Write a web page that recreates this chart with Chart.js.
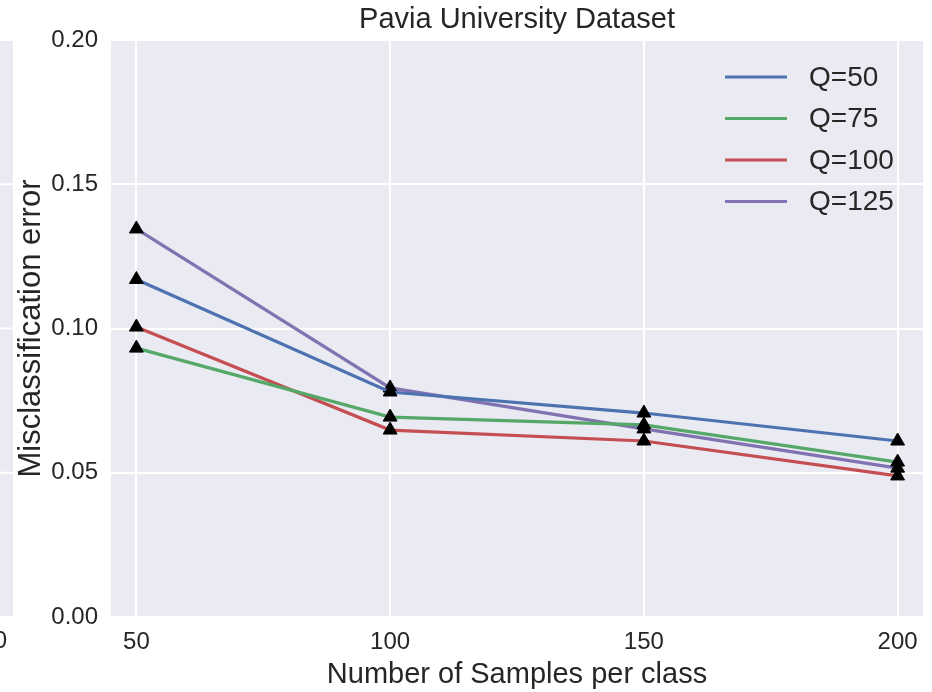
<!DOCTYPE html>
<html>
<head>
<meta charset="utf-8">
<script src="https://cdn.jsdelivr.net/npm/chart.js@4.4.0/dist/chart.umd.min.js"></script>
<style>
  body { margin: 0; background: #fff; }
</style>
</head>
<body>
<canvas id="c" width="932" height="692"></canvas>
<script>
// chart data
var samples = [50, 100, 150, 200];
var seriesNames = ["Q=50", "Q=75", "Q=100", "Q=125"];
var q50  = [0.117, 0.078, 0.0707, 0.061];
var q75  = [0.0932, 0.0693, 0.0666, 0.0537];
var q100 = [0.1005, 0.0648, 0.061, 0.0489];
var q125 = [0.1345, 0.0794, 0.0652, 0.0516];
var yTicks = [0, 0.05, 0.10, 0.15, 0.20];
var colors = ["#4C72B0", "#55A868", "#C44E52", "#8172B2"];

var fontFam = '"Liberation Sans", Arial, sans-serif';
var textColor = "#262626";

function makeSet(name, vals, col) {
  return {
    label: name,
    data: samples.map(function(s, i){ return {x: s, y: vals[i]}; }),
    borderColor: col,
    backgroundColor: col,
    borderWidth: 3.2,
    pointStyle: "triangle",
    pointRadius: 8,
    pointBackgroundColor: "#000",
    pointBorderColor: "#000",
    pointBorderWidth: 1,
    tension: 0
  };
}

var bgPlugin = {
  id: "bg",
  beforeDraw: function(chart) {
    var a = chart.chartArea, ctx = chart.ctx, ys = chart.scales.y;
    ctx.save();
    ctx.fillStyle = "#EAEAF2";
    ctx.fillRect(a.left, a.top, a.right - a.left, a.bottom - a.top);
    // edge of the neighbouring panel, cut off at the left
    ctx.fillRect(0, a.top, 13, a.bottom - a.top);
    ctx.strokeStyle = "#fff";
    ctx.lineWidth = 2;
    yTicks.forEach(function(v) {
      var y = ys.getPixelForValue(v);
      ctx.beginPath();
      ctx.moveTo(0, y);
      ctx.lineTo(13, y);
      ctx.stroke();
    });
    ctx.fillStyle = textColor;
    ctx.font = "24px " + fontFam;
    ctx.textAlign = "right";
    ctx.textBaseline = "middle";
    ctx.fillText("0", 7, a.bottom + 24);
    ctx.restore();
  },
  afterDraw: function(chart) {
    var a = chart.ctx, area = chart.chartArea;
    a.save();
    // title
    a.fillStyle = textColor;
    a.font = "29px " + fontFam;
    a.textAlign = "center";
    a.textBaseline = "middle";
    a.fillText("Pavia University Dataset", (area.left + area.right) / 2, 20);
    // legend
    a.font = "28px " + fontFam;
    a.textAlign = "left";
    chart.data.datasets.forEach(function(ds, i) {
      var y = area.top + 37 + i * 41.5;
      a.strokeStyle = ds.borderColor;
      a.lineWidth = 3.2;
      a.beginPath();
      a.moveTo(area.right - 198, y);
      a.lineTo(area.right - 136, y);
      a.stroke();
      a.fillStyle = textColor;
      a.fillText(ds.label, area.right - 114, y + 1);
    });
    a.restore();
  }
};

var ctx = document.getElementById("c").getContext("2d");
new Chart(ctx, {
  type: "line",
  data: {
    datasets: [
      makeSet(seriesNames[0], q50, colors[0]),
      makeSet(seriesNames[1], q75, colors[1]),
      makeSet(seriesNames[2], q100, colors[2]),
      makeSet(seriesNames[3], q125, colors[3])
    ]
  },
  options: {
    responsive: false,
    animation: false,
    layout: { padding: { top: 40, right: 9, left: 0, bottom: 0 } },
    plugins: {
      legend: { display: false },
      title: { display: false },
      tooltip: { enabled: false }
    },
    scales: {
      x: {
        type: "linear",
        min: 45,
        max: 205,
        afterBuildTicks: function(axis) {
          axis.ticks = samples.map(function(v){ return {value: v}; });
        },
        afterFit: function(axis) { axis.height = 75; },
        grid: { color: "#fff", lineWidth: 2, drawTicks: false },
        border: { display: false },
        ticks: {
          color: textColor,
          font: { size: 24, family: fontFam },
          padding: 11,
          maxRotation: 0,
          callback: function(v) { return String(v); }
        },
        title: {
          display: true,
          text: "Number of Samples per class",
          color: textColor,
          font: { size: 29, family: fontFam },
          padding: { top: 0, bottom: 0 }
        }
      },
      y: {
        min: 0,
        max: 0.2,
        afterBuildTicks: function(axis) {
          axis.ticks = yTicks.map(function(v){ return {value: v}; });
        },
        afterFit: function(axis) { axis.width = 111; },
        grid: { color: "#fff", lineWidth: 2, drawTicks: false },
        border: { display: false },
        ticks: {
          color: textColor,
          font: { size: 24, family: fontFam },
          padding: 13,
          callback: function(v) { return v.toFixed(2); }
        },
        title: {
          display: true,
          text: "Misclassification error",
          color: textColor,
          font: { size: 31, family: fontFam },
          padding: { top: 13, bottom: 0 }
        }
      }
    }
  },
  plugins: [bgPlugin]
});
</script>
</body>
</html>
